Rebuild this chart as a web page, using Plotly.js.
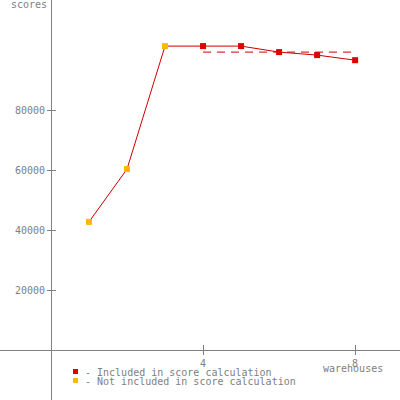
<!DOCTYPE html>
<html><head><meta charset="utf-8">
<script src="https://cdn.plot.ly/plotly-3.0.1.min.js"></script>
<style>html,body{margin:0;padding:0;background:#fff}#chart{width:400px;height:400px}</style>
</head><body><div id="chart"></div>
<script>
const warehouses = [1, 2, 3, 4, 5, 6, 7, 8];
const scores = [42700, 60300, 101300, 101300, 101300, 99300, 98300, 96600];
const included = [false, false, false, true, true, true, true, true];
const scoreRangeX = [4, 8];
const scoreValue = 99300;
const yTicks = [20000, 40000, 60000, 80000];
const xTicks = [4, 8];
const legendLabels = ["- Included in score calculation", "- Not included in score calculation"];
const xTitle = "warehouses";
const yTitle = "scores";

const RED = "#e00000", LINE = "#cc0000", ORANGE = "#ffb800", GRAY = "#808080";
const font = {family: "DejaVu Sans Mono, monospace", size: 10, color: GRAY};

const traces = [
  {x: warehouses, y: scores, mode: "lines", line: {color: LINE, width: 1}, hoverinfo: "skip"},
  {x: scoreRangeX, y: scoreRangeX.map(() => scoreValue), mode: "lines",
   line: {color: LINE, width: 1, dash: "8px,6px"}, hoverinfo: "skip"},
  {x: warehouses.filter((_, i) => included[i]), y: scores.filter((_, i) => included[i]),
   mode: "markers", marker: {symbol: "square", size: 6, color: RED}},
  {x: warehouses.filter((_, i) => !included[i]), y: scores.filter((_, i) => !included[i]),
   mode: "markers", marker: {symbol: "square", size: 6, color: ORANGE}},
  // overlay axis for inner half of crossing ticks
  {x: [null], y: [null], xaxis: "x2", yaxis: "y2", showlegend: false}
];

const xr = [-1.34, 9.18], yr = [-16667, 116667];
const layout = {
  width: 400, height: 400, margin: {l: 0, r: 0, t: 0, b: 0},
  paper_bgcolor: "#fff", plot_bgcolor: "#fff", showlegend: false,
  font: font,
  xaxis: {range: xr, anchor: "free", position: 50/400, showline: true, linecolor: GRAY, linewidth: 1,
    showgrid: false, zeroline: false, tickvals: xTicks, ticktext: xTicks.map(String),
    ticks: "outside", ticklen: 4, tickcolor: GRAY, tickfont: font},
  yaxis: {range: yr, anchor: "free", position: 51/400, showline: true, linecolor: GRAY, linewidth: 1,
    showgrid: false, zeroline: false, tickvals: yTicks, ticktext: yTicks.map(String),
    ticks: "outside", ticklen: 4, tickcolor: GRAY, tickfont: font},
  xaxis2: {range: xr, overlaying: "x", anchor: "free", position: 50/400, showline: false,
    showgrid: false, zeroline: false, tickvals: xTicks, showticklabels: false,
    ticks: "inside", ticklen: 5, tickcolor: GRAY},
  yaxis2: {range: yr, overlaying: "y", anchor: "free", position: 51/400, showline: false,
    showgrid: false, zeroline: false, tickvals: yTicks, showticklabels: false,
    ticks: "inside", ticklen: 4, tickcolor: GRAY},
  shapes: [
    {type: "rect", xref: "paper", yref: "paper", x0: 73/400, x1: 78/400, y0: 1-374/400, y1: 1-369/400,
     fillcolor: RED, line: {width: 0}},
    {type: "rect", xref: "paper", yref: "paper", x0: 73/400, x1: 78/400, y0: 1-383/400, y1: 1-378/400,
     fillcolor: ORANGE, line: {width: 0}}
  ],
  annotations: [
    {xref: "paper", yref: "paper", x: 83/400, y: 1-372/400, xanchor: "left", yanchor: "middle",
     text: legendLabels[0], showarrow: false, font: font},
    {xref: "paper", yref: "paper", x: 83/400, y: 1-381/400, xanchor: "left", yanchor: "middle",
     text: legendLabels[1], showarrow: false, font: font},
    {xref: "paper", yref: "paper", x: 353/400, y: 1-368/400, xanchor: "center", yanchor: "middle",
     text: xTitle, showarrow: false, font: font},
    {xref: "paper", yref: "paper", x: 29/400, y: 1-4/400, xanchor: "center", yanchor: "middle",
     text: yTitle, showarrow: false, font: font}
  ]
};
Plotly.newPlot("chart", traces, layout, {staticPlot: true, displayModeBar: false});
</script></body></html>
